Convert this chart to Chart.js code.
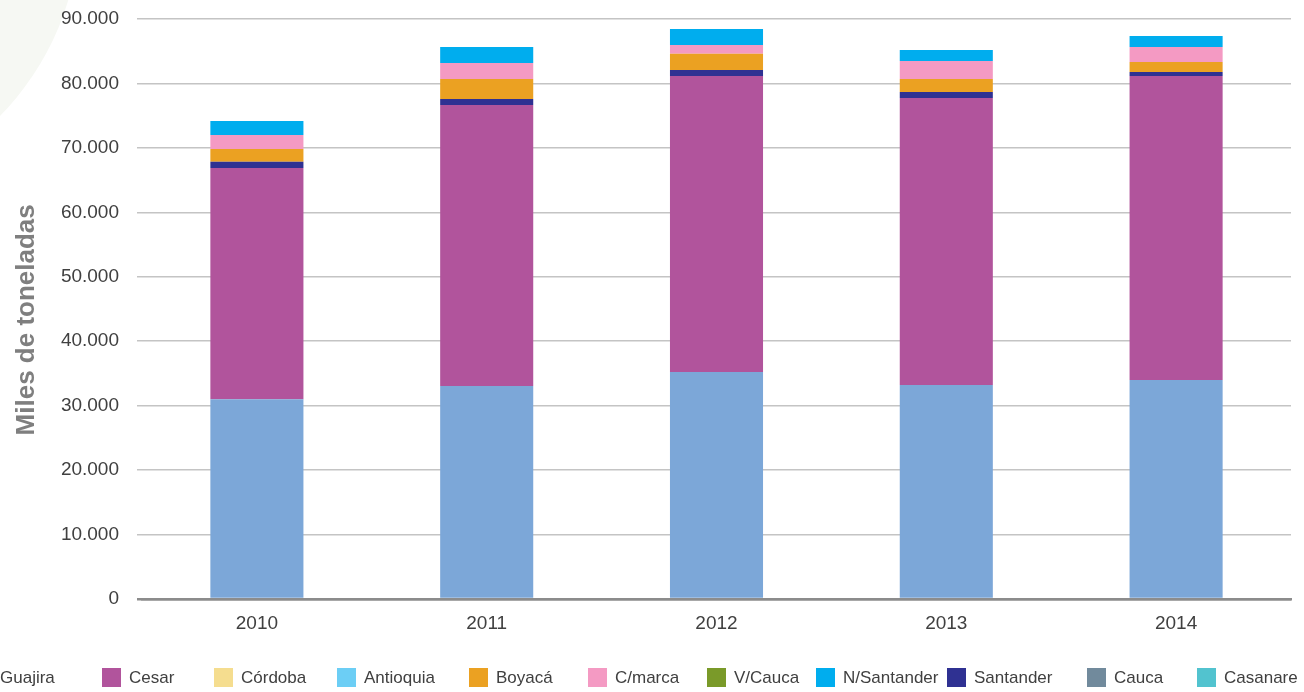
<!DOCTYPE html>
<html>
<head>
<meta charset="utf-8">
<script src="https://cdn.jsdelivr.net/npm/chart.js@4.4.1/dist/chart.umd.min.js"></script>
<style>
  html, body { margin: 0; padding: 0; background: #ffffff; overflow: hidden; }
  #wrap { position: relative; width: 1304px; height: 692px; overflow: hidden; }
  #deco { position: absolute; left: -480px; top: -360px; width: 560px; height: 560px; border-radius: 50%; background: #f6f8f3; }
  #c { position: absolute; left: 0; top: 0; }
</style>
</head>
<body>
<div id="wrap">
  <div id="deco"></div>
  <canvas id="c" width="1304" height="692"></canvas>
</div>
<script>
// ---- data ----
const years = ['2010', '2011', '2012', '2013', '2014'];
const guajira    = [31000, 33050, 35230, 33210, 33980];
const cesar      = [35880, 43610, 45930, 44530, 47180];
const cordoba    = [0, 0, 0, 0, 0];
const antioquia  = [0, 0, 0, 0, 0];
const santander  = [980, 930, 930, 930, 620];
const boyaca     = [1970, 3100, 2530, 2020, 1550];
const cmarca     = [2170, 2480, 1350, 2790, 2330];
const vcauca     = [0, 0, 0, 0, 0];
const nsantander = [2180, 2490, 2480, 1710, 1700];
const cauca      = [0, 0, 0, 0, 0];
const casanare   = [0, 0, 0, 0, 0];
const yTicks = [0, 10000, 20000, 30000, 40000, 50000, 60000, 70000, 80000, 90000];
const legendOrder = ['Guajira', 'Cesar', 'Córdoba', 'Antioquia', 'Boyacá', 'C/marca', 'V/Cauca', 'N/Santander', 'Santander', 'Cauca', 'Casanare'];
const yTitle = 'Miles de toneladas';

// ---- styles ----
const colors = {
  'Guajira': '#7ca7d8', 'Cesar': '#b1549c', 'Córdoba': '#f5dd8f', 'Antioquia': '#6ccef5',
  'Boyacá': '#eba122', 'C/marca': '#f49ac3', 'V/Cauca': '#7a9a29', 'N/Santander': '#00adee',
  'Santander': '#2f3192', 'Cauca': '#718a9c', 'Casanare': '#52c3cf'
};
const legendX = [-27, 102, 214, 337, 469, 588, 707, 816, 947, 1087, 1197];

const stackSeries = [
  ['Guajira', guajira], ['Cesar', cesar], ['Córdoba', cordoba], ['Antioquia', antioquia],
  ['Santander', santander], ['Boyacá', boyaca], ['C/marca', cmarca], ['V/Cauca', vcauca],
  ['N/Santander', nsantander], ['Cauca', cauca], ['Casanare', casanare]
];

const fmt = v => String(v).replace(/\B(?=(\d{3})+(?!\d))/g, '.');

const bottomLegend = {
  id: 'bottomLegend',
  afterDraw(chart, args, opts) {
    const ctx = chart.ctx;
    ctx.save();
    ctx.font = opts.font;
    ctx.textBaseline = 'middle';
    ctx.textAlign = 'left';
    opts.order.forEach((name, i) => {
      const ds = chart.data.datasets.find(d => d.label === name);
      const x = opts.xs[i];
      ctx.fillStyle = ds.backgroundColor;
      ctx.fillRect(x, opts.top, opts.box, opts.box);
      ctx.fillStyle = opts.color;
      ctx.fillText(name, x + opts.box + opts.gap, opts.top + opts.box / 2 + 1);
    });
    ctx.restore();
  }
};

Chart.defaults.font.family = '"Liberation Sans", Arial, sans-serif';

new Chart(document.getElementById('c'), {
  type: 'bar',
  data: {
    labels: years,
    datasets: stackSeries.map(([name, vals]) => ({
      label: name,
      data: vals,
      backgroundColor: colors[name],
      borderWidth: 0,
      barPercentage: 1,
      categoryPercentage: 0.405
    }))
  },
  plugins: [bottomLegend],
  options: {
    responsive: false,
    animation: false,
    layout: { padding: { top: 19, right: 13, bottom: 0, left: 0 } },
    plugins: {
      legend: { display: false },
      tooltip: { enabled: false },
      bottomLegend: {
        order: legendOrder, xs: legendX, top: 668, box: 19, gap: 8,
        font: '17px "Liberation Sans", Arial, sans-serif', color: '#404040'
      }
    },
    scales: {
      x: {
        stacked: true,
        grid: { display: false, drawTicks: false },
        border: { display: true, color: '#8c8c8c', width: 2.5 },
        ticks: { color: '#404040', font: { size: 19 }, padding: 13, maxRotation: 0 },
        afterFit: s => { s.height = 93; s.paddingLeft = 0; s.paddingRight = 0; }
      },
      y: {
        stacked: true,
        min: 0, max: 90000,
        afterBuildTicks: s => { s.ticks = yTicks.map(v => ({ value: v })); },
        grid: {
          color: ctx => ctx.tick && ctx.tick.value === 0 ? '#8c8c8c' : '#c4c4c4',
          lineWidth: ctx => ctx.tick && ctx.tick.value === 0 ? 2.5 : 1.5,
          drawTicks: true, tickLength: 5
        },
        border: { display: false },
        ticks: { color: '#404040', font: { size: 19 }, padding: 18, callback: v => fmt(v) },
        title: {
          display: true, text: yTitle + '   ', color: '#7f7f7f',
          font: { size: 26, weight: 'bold' }, padding: { top: 11, bottom: 0 }
        },
        afterFit: s => { s.width = 142; s.paddingTop = 0; s.paddingBottom = 0; }
      }
    }
  }
});
</script>
</body>
</html>
